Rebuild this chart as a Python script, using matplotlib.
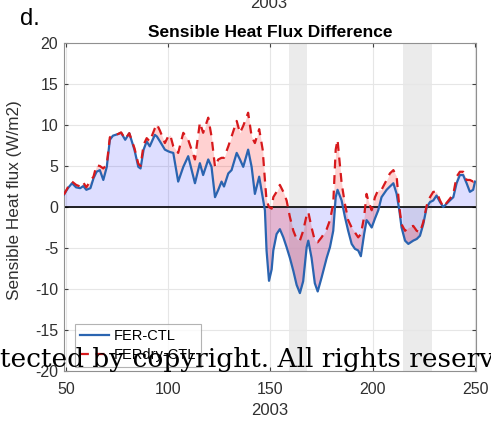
import numpy as np
import matplotlib
matplotlib.use("Agg")
import matplotlib.pyplot as plt

plt.rcParams['font.family'] = ['Liberation Sans', 'DejaVu Sans']
plt.rcParams['axes.unicode_minus'] = False

# day of year (2003) and the two flux differences (W/m2)
day = [49, 51, 53, 55, 57, 58.5, 60, 62, 63.5, 65, 66.6, 68.3, 70, 71.5, 73, 75.5, 77, 79, 81,
       83.5, 85.4, 86.5, 88, 89.5, 91, 93.5, 94.5, 96, 98.4, 100, 101, 102.5, 104.9, 107.4, 109.8,
       113.1, 115.5, 117.1, 119.6, 121.2, 122.9, 124.5, 126.1, 127.3, 129.4, 131, 133.5, 135.1,
       136.7, 139.1, 140.8, 142.4, 144.5, 146.2, 147.3, 148.1, 149.3, 150.6, 151.4, 153, 154.6,
       156.3, 157.9, 159.5, 161.2, 162.8, 164.4, 166, 167.7, 168.5, 170.1, 171.7, 173.1, 175,
       177.5, 179.1, 180.7, 181.9, 182.8, 184.8, 186.4, 188, 189.7, 191.3, 192.9, 194.2, 195.8,
       197, 197.8, 199.5, 201.1, 202.7, 204.3, 206.8, 208.4, 210.1, 211.7, 213, 214.1, 215.8,
       217.4, 219.8, 221.5, 223.1, 224.7, 226.4, 228, 229.6, 231.2, 232.9, 234.5, 236.1, 237.7,
       239.4, 241, 242.6, 244.2, 245.9, 247.5, 249.1, 250]
fer_ctl = [1.5, 2.3, 2.9, 2.4, 2.3, 2.55, 2.1, 2.3, 3.5, 4.3, 4.5, 3.3, 4.9, 8.2, 8.7, 8.9, 9.05, 8.2, 9.0,
           7.0, 4.9, 4.7, 7.0, 8.0, 7.4, 8.8, 8.6, 8.0, 7.0, 6.8, 6.7, 6.6, 3.1, 4.9, 6.2,
           2.9, 5.35, 3.9, 5.8, 4.9, 1.2, 2.1, 3.1, 2.5, 4.1, 4.5, 6.6, 5.8,
           4.9, 7.0, 4.9, 1.6, 3.7, 1.2, -0.4, -5.3, -9.0, -7.6, -5.3, -3.3, -2.7,
           -3.7, -4.9, -6.2, -7.8, -9.5, -10.5, -9.05, -4.9, -4.1, -6.2, -9.3, -10.3, -8.6,
           -6.2, -4.9, -2.9, 1.2, 2.1, 0.8, -1.2, -2.9, -4.5, -5.1, -5.3, -6.0, -3.3,
           -1.6, -1.85, -2.5, -1.4, -0.4, 1.2, 2.1, 2.5, 2.9, 1.6, -0.4, -2.5, -4.1,
           -4.5, -4.1, -3.9, -3.5, -2.1, 0.0, 0.6, 0.8, 1.4, 0.6, 0.0, 0.4, 0.8,
           1.2, 2.9, 3.9, 3.9, 2.9, 1.85, 2.1, 3.1]
ferdry_ctl = [1.5, 2.4, 3.1, 2.7, 2.5, 3.0, 2.4, 3.2, 3.7, 5.1, 5.0, 4.7, 5.2, 8.5, 8.8, 8.9, 9.1, 8.3, 9.0,
              7.2, 5.3, 5.0, 7.6, 8.4, 8.0, 9.6, 10.1, 9.3, 7.8, 8.6, 8.8, 7.4, 6.6, 9.05, 8.2,
              5.8, 10.3, 9.05, 10.9, 8.6, 4.9, 5.8, 6.0, 6.0, 7.4, 8.6, 10.5, 9.05,
              9.9, 11.5, 8.6, 7.8, 9.5, 7.0, 3.3, 0.8, 0.0, -0.2, 1.2, 1.85, 2.7,
              1.85, 0.8, -1.2, -2.9, -3.9, -4.1, -2.9, -1.0, -0.6, -2.5, -4.1, -4.3, -3.7,
              -2.7, -1.6, 0.4, 7.0, 8.2, 2.9, 0.4, -1.6, -2.5, -3.1, -3.7, -3.3, -1.2,
              1.6, 0.8, -0.4, 1.2, 2.1, 2.1, 3.3, 4.1, 4.5, 3.7, 0.0, -2.1, -2.9,
              -2.5, -2.3, -2.9, -3.1, -1.85, 0.2, 1.2, 1.85, 1.85, 0.8, 0.0, 0.5, 1.0,
              1.6, 3.7, 4.3, 4.3, 3.3, 3.3, 3.1, 3.2]
dry_periods = [(159, 168), (215, 229)]

day = np.array(day)
fer_ctl = np.array(fer_ctl)
ferdry_ctl = np.array(ferdry_ctl)

fig = plt.figure(figsize=(4.91, 4.24), dpi=100)
ax = fig.add_axes([0.130, 0.125, 0.8395, 0.7735])

for start, end in dry_periods:
    ax.axvspan(start, end, color='#ebebeb', lw=0, zorder=0)

ax.fill_between(day, 0, fer_ctl, color='blue', alpha=0.13, lw=0, zorder=1)
ax.fill_between(day, fer_ctl, ferdry_ctl, color='red', alpha=0.18, lw=0, zorder=1)
ax.axhline(0, color='black', lw=1.2, zorder=2)
ax.plot(day, fer_ctl, color='#2a64b0', lw=1.6, label='FER-CTL', zorder=3)
ax.plot(day, ferdry_ctl, color='#d7191c', lw=1.6, ls=(0, (4, 3)), label='FERdry-CTL', zorder=3)

ax.set_xlim(49, 250.5)
ax.set_ylim(-20, 20)
ax.set_xticks([50, 100, 150, 200, 250])
ax.set_yticks(np.arange(-20, 21, 5))
ax.grid(True, color='#e6e6e6', lw=0.8, zorder=0)
ax.set_axisbelow(True)
ax.tick_params(direction='in', length=3, top=True, right=True, labelsize=11.5,
               colors='#404040', labelcolor='#303030', pad=4)
ax.tick_params(axis='x', pad=8)
for s in ax.spines.values():
    s.set_color('#909090')
    s.set_linewidth(0.8)

ax.set_xlabel('2003', fontsize=12, color='#303030', labelpad=4)
ax.set_ylabel('Sensible Heat flux (W/m2)', fontsize=12.3, color='#303030')
ax.yaxis.set_label_coords(-0.102, 0.52)
ax.set_title('Sensible Heat Flux Difference', fontsize=12.5, fontweight='bold', pad=4)
fig.text(0.548, 0.992, '2003', ha='center', va='center', fontsize=12, color='#303030')
fig.text(0.04, 0.955, 'd.', ha='left', va='center', fontsize=17)

leg = ax.legend(loc='lower left', bbox_to_anchor=(0.012, -0.005), fontsize=10.5, frameon=True,
                fancybox=False, edgecolor='#a0a0a0', handlelength=2.0, borderpad=0.35,
                labelspacing=0.3, handletextpad=0.3, borderaxespad=0.4)
leg.get_frame().set_linewidth(0.8)
leg.set_zorder(5)

fig.text(0.0, 1 - 367 / 424, 'tected by copyright. All rights reserv', ha='left', va='baseline',
         fontsize=19, family='DejaVu Serif', color='black', zorder=10)

fig.savefig('out.png', dpi=100)
